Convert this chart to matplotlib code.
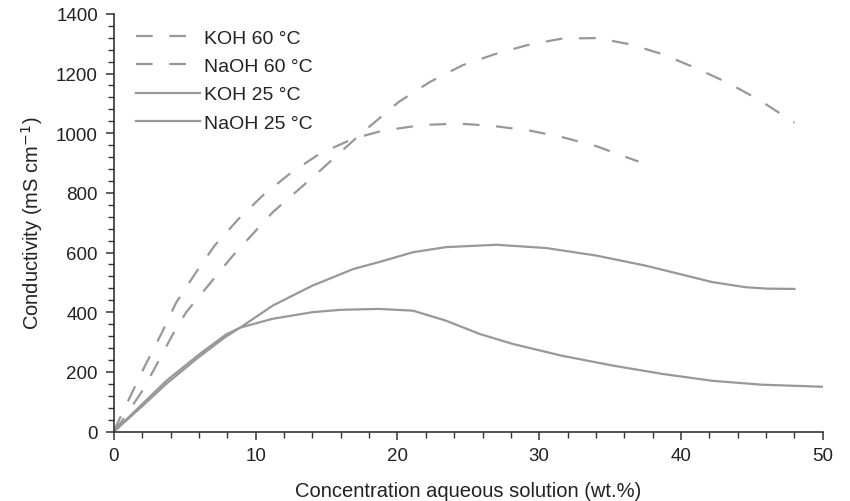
import matplotlib
matplotlib.use("Agg")
import matplotlib.pyplot as plt
from matplotlib.ticker import MultipleLocator

# ---- data ----
koh60_x = [0, 0.5, 2.1, 3.1, 4.1, 5.1, 8.4, 11.2, 14.3, 17.3, 20.1, 22.3, 24.6,
           27.0, 29.3, 31.6, 34.1, 36.5, 38.8, 41.0, 43.3, 45.5, 48.0]
koh60_y = [0, 30, 143, 232, 321, 400, 590, 735, 864, 993, 1105, 1172, 1228,
           1267, 1297, 1317, 1319, 1297, 1263, 1219, 1169, 1112, 1035]

naoh60_x = [0, 0.5, 2.2, 3.4, 4.4, 5.8, 7.1, 8.8, 10.5, 12.4, 14.5, 16.9, 19.0,
            21.9, 24.4, 26.8, 29.3, 31.6, 34.0, 36.3, 37.0]
naoh60_y = [0, 53, 221, 333, 433, 534, 623, 713, 791, 864, 931, 982, 1009,
            1028, 1032, 1024, 1009, 987, 957, 917, 905]

koh25_x = [0, 2, 3.7, 6.0, 7.9, 8.9, 11.2, 14.0, 16.9, 18.7, 21.1, 23.4, 27.0,
           30.5, 34.0, 37.5, 39.9, 42.2, 44.5, 46.0, 48.0]
koh25_y = [0, 85, 160, 250, 318, 348, 422, 489, 545, 568, 601, 618, 626,
           615, 590, 556, 528, 501, 484, 479, 478]

naoh25_x = [0, 2, 3.7, 6.0, 7.9, 8.9, 11.2, 14.0, 16.0, 18.7, 21.1, 23.4, 25.8,
            28.1, 31.6, 35.2, 38.7, 42.2, 45.7, 50.0]
naoh25_y = [0, 92, 170, 258, 325, 348, 378, 400, 408, 411, 405, 372, 327,
            294, 254, 221, 193, 170, 157, 150]

labels = ["KOH 60 °C", "NaOH 60 °C", "KOH 25 °C", "NaOH 25 °C"]
x_ticks = [0, 10, 20, 30, 40, 50]
y_ticks = [0, 200, 400, 600, 800, 1000, 1200, 1400]

plt.rcParams['font.family'] = ['Liberation Sans', 'DejaVu Sans']
color = '#989898'
txt = '#222222'

fig = plt.figure(figsize=(8.5, 5.02), dpi=100)
ax = fig.add_axes([0.134, 0.1384, 0.834, 0.832])

lw = 1.6
ax.plot(koh60_x, koh60_y, color=color, lw=lw, dashes=(7.5, 7.5), label=labels[0])
ax.plot(naoh60_x, naoh60_y, color=color, lw=lw, dashes=(7.5, 7.5), label=labels[1])
ax.plot(koh25_x, koh25_y, color=color, lw=lw, label=labels[2])
ax.plot(naoh25_x, naoh25_y, color=color, lw=lw, label=labels[3])

ax.set_xlim(0, 50)
ax.set_ylim(0, 1400)
ax.set_xticks(x_ticks)
ax.set_yticks(y_ticks)
ax.xaxis.set_minor_locator(MultipleLocator(2))
ax.yaxis.set_minor_locator(MultipleLocator(40))

for s in ['top', 'right']:
    ax.spines[s].set_visible(False)
for s in ['left', 'bottom']:
    ax.spines[s].set_color('#333333')
    ax.spines[s].set_linewidth(1.2)

ax.tick_params(which='major', length=5.5, width=1.1, color='#333333',
               labelsize=13.5, labelcolor=txt, direction='out')
ax.tick_params(which='minor', length=4.5, width=1.0, color='#333333', direction='out')
ax.tick_params(axis='x', pad=6)
ax.tick_params(axis='y', pad=6)

ax.set_xlabel("Concentration aqueous solution (wt.%)", fontsize=14.5, color=txt, labelpad=12)
ax.set_ylabel("Conductivity (mS cm$^{-1}$)", fontsize=14.5, color=txt, labelpad=8)

leg = ax.legend(loc='upper left', bbox_to_anchor=(0.006, 1.005), frameon=False,
                fontsize=14, handlelength=3.3, handletextpad=0.2,
                labelspacing=0.55, labelcolor=txt)

fig.savefig("out.png", dpi=100)
